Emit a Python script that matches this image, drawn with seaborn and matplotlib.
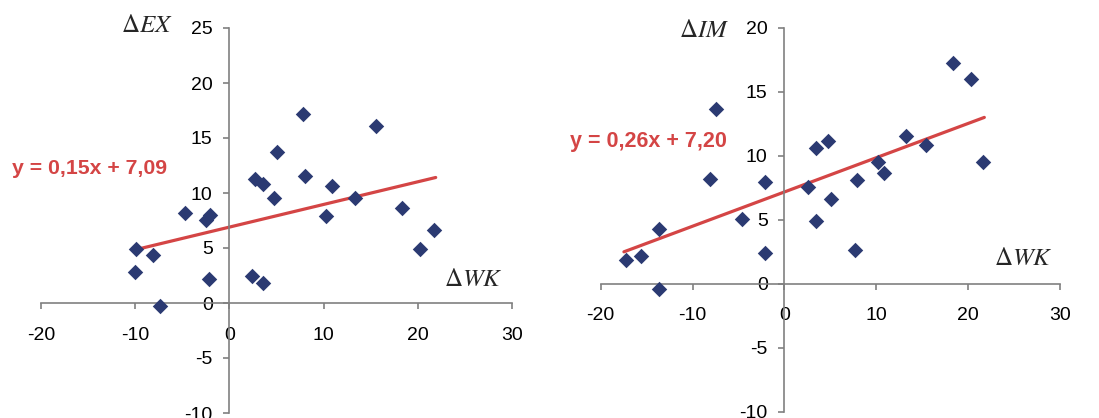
import numpy as np
import pandas as pd
import matplotlib
matplotlib.use("Agg")
import matplotlib.pyplot as plt
import seaborn as sns

# ---- data ----
ex_wk = [-9.91, -10.05, -8.10, -7.36, -4.67, -2.44, -2.09, -2.12, 2.41, 2.72, 3.57, 3.57,
         4.74, 5.10, 7.82, 8.00, 10.30, 10.90, 13.38, 15.57, 18.33, 20.24, 21.73]
ex_val = [4.95, 2.79, 4.34, -0.30, 8.19, 7.52, 8.04, 2.18, 2.49, 11.26, 10.80, 1.85,
          9.56, 13.74, 17.14, 11.59, 7.89, 10.68, 9.59, 16.08, 8.65, 4.95, 6.64]
ex_trend_x = [-10.0, 21.9]
ex_trend_y = [4.84, 11.41]
ex_eq = "y = 0,15x + 7,09"

im_wk = [-17.28, -15.58, -13.62, -13.62, -8.13, -7.44, -4.65, -2.11, -2.11, 2.61, 3.49, 3.49,
         4.72, 5.08, 7.73, 7.92, 10.20, 10.89, 13.22, 15.47, 18.34, 20.30, 21.68]
im_val = [1.88, 2.14, 4.25, -0.42, 8.21, 13.64, 5.03, 7.95, 2.37, 7.54, 10.61, 4.90,
          11.13, 6.60, 2.66, 8.08, 9.52, 8.63, 11.55, 10.85, 17.24, 16.04, 9.52]
im_trend_x = [-17.47, 21.79]
im_trend_y = [2.50, 13.01]
im_eq = "y = 0,26x + 7,20"

x_ticks = [-20, -10, 0, 10, 20, 30]
ex_yticks = [-10, -5, 0, 5, 10, 15, 20, 25]
im_yticks = [-10, -5, 0, 5, 10, 15, 20]

# ---- styling ----
sns.set_theme(style="white")
plt.rcParams['font.family'] = ['Liberation Sans', 'DejaVu Sans']
plt.rcParams['mathtext.fontset'] = 'stix'

MARK = "#2b3a72"
RED = "#d44545"
AXC = "#808080"

fig = plt.figure(figsize=(10.99, 4.18), dpi=100)
ax1 = fig.add_axes([41/1099, 5/418, 471/1099, 385/418])
ax2 = fig.add_axes([600.7/1099, 6.3/418, 459/1099, 383.7/418])


def style_axes(ax, ylim, yticks):
    ax.set_xlim(-20, 30)
    ax.set_ylim(*ylim)
    ax.set_xticks(x_ticks)
    ax.set_yticks(yticks)
    ax.set_xticklabels([str(t) for t in x_ticks])
    ax.set_yticklabels([str(t) for t in yticks])
    for s in ["top", "right"]:
        ax.spines[s].set_visible(False)
    ax.spines["left"].set_position(("data", 0))
    ax.spines["bottom"].set_position(("data", 0))
    for s in ["left", "bottom"]:
        ax.spines[s].set_color(AXC)
        ax.spines[s].set_linewidth(1.2)
    ax.tick_params(axis="x", direction="out", length=4, width=1.2, color=AXC,
                   labelsize=14, pad=13, labelcolor="black", bottom=True)
    ax.tick_params(axis="y", direction="out", length=4, width=1.2, color=AXC,
                   labelsize=14, pad=8, labelcolor="black", left=True)
    ax.set_xlabel("")
    ax.set_ylabel("")
    ax.patch.set_alpha(0)
    for lab in ax.get_xticklabels() + ax.get_yticklabels():
        lab.set_clip_on(False)


df1 = pd.DataFrame({"wk": ex_wk, "v": ex_val})
df1t = pd.DataFrame({"wk": ex_trend_x, "v": ex_trend_y})
sns.lineplot(data=df1t, x="wk", y="v", ax=ax1, color=RED, linewidth=2.3, zorder=2)
sns.scatterplot(data=df1, x="wk", y="v", ax=ax1, marker="D", s=62, color=MARK,
                edgecolor=MARK, linewidth=0, zorder=3, clip_on=False)
style_axes(ax1, (-10, 25), ex_yticks)
ax1.text(-6.0, 25.27, r"$\Delta EX$", fontsize=18, ha="right", va="center")
ax1.text(25.9, 2.18, r"$\Delta WK$", fontsize=18, ha="center", va="center")
ax1.text(-14.85, 12.27, ex_eq, fontsize=15.3, fontweight="bold", color=RED,
         ha="center", va="center")

df2 = pd.DataFrame({"wk": im_wk, "v": im_val})
df2t = pd.DataFrame({"wk": im_trend_x, "v": im_trend_y})
sns.lineplot(data=df2t, x="wk", y="v", ax=ax2, color=RED, linewidth=2.3, zorder=2)
sns.scatterplot(data=df2, x="wk", y="v", ax=ax2, marker="D", s=62, color=MARK,
                edgecolor=MARK, linewidth=0, zorder=3, clip_on=False)
style_axes(ax2, (-10, 20), im_yticks)
ax2.text(-8.75, 19.84, r"$\Delta IM$", fontsize=18, ha="center", va="center")
ax2.text(26.0, 2.02, r"$\Delta WK$", fontsize=18, ha="center", va="center")
ax2.text(-14.79, 11.11, im_eq, fontsize=15.5, fontweight="bold", color=RED,
         ha="center", va="center")

fig.savefig("out.png", dpi=100)
